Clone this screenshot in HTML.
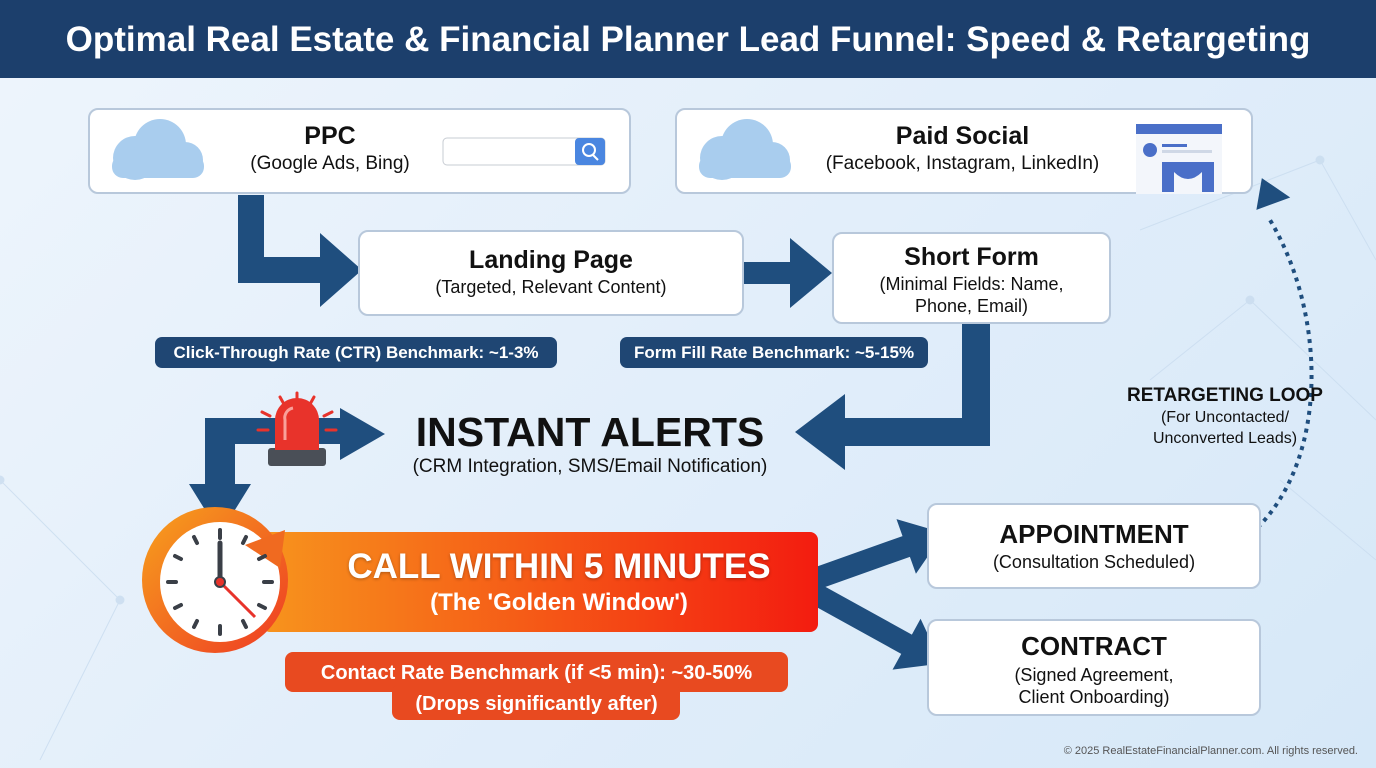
<!DOCTYPE html>
<html><head><meta charset="utf-8"><style>
*{margin:0;padding:0;box-sizing:border-box}
body{width:1376px;height:768px;overflow:hidden;font-family:"Liberation Sans",sans-serif;background:linear-gradient(135deg,#eef5fc 0%,#e2eefa 50%,#d6e8f8 100%);position:relative}
.hdr{position:absolute;left:0;top:0;width:1376px;height:78px;background:#1c3f6c;color:#fff;font-weight:bold;font-size:35px;text-align:center;line-height:80px}
.box{position:absolute;background:#fff;border:2px solid #b8c8db;border-radius:10px;text-align:center;color:#111}
.t{font-weight:bold}
.pill{position:absolute;background:#1f4673;color:#fff;font-weight:bold;font-size:17px;border-radius:7px;text-align:center;line-height:31px}
.abs{position:absolute;text-align:center;color:#111}
svg{position:absolute;left:0;top:0}
</style></head><body>
<svg width="1376" height="768">
<g stroke="#c9dcef" stroke-width="1" fill="#c9dcef" opacity="0.8">
<line x1="1140" y1="230" x2="1320" y2="160"/><line x1="1320" y1="160" x2="1376" y2="260"/><line x1="1150" y1="380" x2="1250" y2="300"/><line x1="1250" y1="300" x2="1376" y2="420"/><line x1="0" y1="480" x2="120" y2="600"/><line x1="120" y1="600" x2="40" y2="760"/><line x1="1280" y1="480" x2="1376" y2="560"/>
<circle cx="1320" cy="160" r="4"/><circle cx="1250" cy="300" r="4"/><circle cx="120" cy="600" r="4"/><circle cx="0" cy="480" r="4"/>
</g>
<g fill="#1f4e7e" stroke="none">
<path d="M238 195 h26 v62 h56 v-24 l42 37 l-42 37 v-24 h-82z"/>
<path d="M744 262 h46 v-24 l42 35 l-42 35 v-24 h-46z"/>
<path d="M962 323 h28 v123 h-145 v24 l-50 -38 l50 -38 v24 h117z"/>
<path d="M340 408 l45 26 l-45 26 v-16 h-105 v40 h16 l-31 50 l-31 -50 h16 v-66 h135z"/>
<path transform="translate(812,580) rotate(-19.6)" d="M0 -11 h100 v-18 l40 29 l-40 29 v-18 h-100z"/>
<path transform="translate(812,592) rotate(28.9)" d="M0 -11 h108 v-18 l40 29 l-40 29 v-18 h-108z"/>
</g>
<path d="M1237 545 C1330 480 1330 320 1270 220" stroke="#1f4e7e" stroke-width="4" stroke-dasharray="4 5" fill="none"/>
<path d="M1252 205 l36 0 l-20 -28z" fill="#1f4e7e" transform="rotate(-20 1268 195)"/>
<g>
<rect x="268" y="448" width="58" height="18" rx="3" fill="#4a4f57"/>
<path d="M275 450 v-30 a22 22 0 0 1 44 0 v30z" fill="#e8332b"/>
<path d="M285 440 v-20 a10 10 0 0 1 8 -12" stroke="#f9a09a" stroke-width="3" fill="none"/>
<g stroke="#e8332b" stroke-width="3" stroke-linecap="round">
<line x1="297" y1="393" x2="297" y2="403"/><line x1="280" y1="397" x2="285" y2="406"/><line x1="314" y1="397" x2="309" y2="406"/><line x1="262" y1="412" x2="270" y2="416"/><line x1="332" y1="412" x2="324" y2="416"/><line x1="258" y1="430" x2="268" y2="430"/><line x1="326" y1="430" x2="336" y2="430"/>
</g></g>
<defs><linearGradient id="og" x1="0" x2="1"><stop offset="0" stop-color="#f7941d"/><stop offset="1" stop-color="#f31c10"/></linearGradient>
<linearGradient id="cg" x1="0" y1="0" x2="1" y2="1"><stop offset="0" stop-color="#f7a21d"/><stop offset="1" stop-color="#ee3a24"/></linearGradient></defs>
<rect x="262" y="532" width="556" height="100" rx="8" fill="url(#og)"/>
<circle cx="215" cy="580" r="73" fill="url(#cg)"/>
<circle cx="220" cy="582" r="60" fill="#fff"/>
<path d="M245 545 l40 -15 l-5 38z" fill="#f06a20"/>
<g stroke="#3a3f47" stroke-width="4" stroke-linecap="round">
<line x1="220" y1="530" x2="220" y2="538"/><line x1="220" y1="626" x2="220" y2="634"/><line x1="168" y1="582" x2="176" y2="582"/><line x1="264" y1="582" x2="272" y2="582"/>
<line x1="194" y1="537" x2="197" y2="543"/><line x1="246" y1="537" x2="243" y2="543"/><line x1="175" y1="556" x2="181" y2="559"/><line x1="265" y1="556" x2="259" y2="559"/><line x1="175" y1="608" x2="181" y2="605"/><line x1="265" y1="608" x2="259" y2="605"/><line x1="194" y1="627" x2="197" y2="621"/><line x1="246" y1="627" x2="243" y2="621"/>
<line x1="220" y1="582" x2="220" y2="543" stroke-width="5"/>
</g>
<line x1="220" y1="582" x2="255" y2="617" stroke="#e8332b" stroke-width="3"/>
<circle cx="220" cy="582" r="5" fill="#e8332b" stroke="#3a3f47" stroke-width="2"/>
<rect x="285" y="652" width="503" height="40" rx="8" fill="#e84a20"/>
<rect x="392" y="684" width="288" height="36" rx="8" fill="#e84a20"/>
</svg>
<div class="hdr">Optimal Real Estate &amp; Financial Planner Lead Funnel: Speed &amp; Retargeting</div>

<div class="box" style="left:88px;top:108px;width:543px;height:86px"></div>
<svg width="1376" height="768" style="pointer-events:none">
<g fill="#a9cdee"><circle cx="135" cy="158" r="22"/><circle cx="160" cy="145" r="26"/><circle cx="185" cy="160" r="18"/><rect x="112" y="155" width="92" height="23" rx="11"/></g>
<rect x="443" y="138" width="162" height="27" rx="4" fill="#fff" stroke="#c7ccd3"/>
<rect x="575" y="138" width="30" height="27" rx="4" fill="#4a86e0"/>
<circle cx="589" cy="150" r="6" stroke="#fff" stroke-width="2" fill="none"/><line x1="593" y1="155" x2="598" y2="160" stroke="#fff" stroke-width="2"/>
</svg>
<div class="abs" style="left:230px;top:122px;width:200px"><div class="t" style="font-size:25px">PPC</div><div style="font-size:19px;margin-top:2px">(Google Ads, Bing)</div></div>

<div class="box" style="left:675px;top:108px;width:578px;height:86px"></div>
<svg width="1376" height="768">
<g fill="#a9cdee"><circle cx="722" cy="158" r="22"/><circle cx="747" cy="145" r="26"/><circle cx="772" cy="160" r="18"/><rect x="699" y="155" width="92" height="23" rx="11"/></g>
<rect x="1136" y="124" width="86" height="70" fill="#f3f6fb"/>
<rect x="1136" y="124" width="86" height="10" fill="#4a6fc8"/>
<circle cx="1150" cy="150" r="7" fill="#4a6fc8"/>
<rect x="1162" y="144" width="25" height="3" fill="#4a6fc8"/><rect x="1162" y="150" width="50" height="3" fill="#cfd8e6"/>
<path d="M1162 162 h52 v30 h-12 v-20 q-14 14 -28 0 v20 h-12z" fill="#4a6fc8"/>
</svg>
<div class="abs" style="left:790px;top:122px;width:345px"><div class="t" style="font-size:25px">Paid Social</div><div style="font-size:19px;margin-top:2px">(Facebook, Instagram, LinkedIn)</div></div>

<div class="box" style="left:358px;top:230px;width:386px;height:86px;padding-top:14px"><div class="t" style="font-size:25px">Landing Page</div><div style="font-size:18px;margin-top:2px">(Targeted, Relevant Content)</div></div>
<div class="box" style="left:832px;top:232px;width:279px;height:92px;padding-top:9px"><div class="t" style="font-size:25px">Short Form</div><div style="font-size:18px;margin-top:1px;line-height:22px">(Minimal Fields: Name,<br>Phone, Email)</div></div>

<div class="pill" style="left:155px;top:337px;width:402px">Click-Through Rate (CTR) Benchmark: ~1-3%</div>
<div class="pill" style="left:620px;top:337px;width:308px">Form Fill Rate Benchmark: ~5-15%</div>

<div class="abs" style="left:380px;top:408px;width:420px"><div class="t" style="font-size:41px;line-height:48px">INSTANT ALERTS</div><div style="font-size:19px">(CRM Integration, SMS/Email Notification)</div></div>

<div class="abs" style="left:300px;top:546px;width:518px;color:#fff"><div class="t" style="font-size:35px;line-height:42px;text-shadow:0 1px 3px rgba(0,0,0,.3)">CALL WITHIN 5 MINUTES</div><div class="t" style="font-size:24px;line-height:30px">(The 'Golden Window')</div></div>
<div class="abs" style="left:285px;top:658px;width:503px;color:#fff;font-weight:bold;font-size:20px;line-height:31px">Contact Rate Benchmark (if &lt;5 min): ~30-50%<br>(Drops significantly after)</div>

<div class="box" style="left:927px;top:503px;width:334px;height:86px;padding-top:14px"><div class="t" style="font-size:26px">APPOINTMENT</div><div style="font-size:18px;margin-top:2px">(Consultation Scheduled)</div></div>
<div class="box" style="left:927px;top:619px;width:334px;height:97px;padding-top:10px"><div class="t" style="font-size:26px">CONTRACT</div><div style="font-size:18px;margin-top:2px;line-height:22px">(Signed Agreement,<br>Client Onboarding)</div></div>

<div class="abs" style="left:1105px;top:385px;width:240px"><div class="t" style="font-size:19px">RETARGETING LOOP</div><div style="font-size:16px;line-height:21px">(For Uncontacted/<br>Unconverted Leads)</div></div>

<div class="abs" style="right:18px;top:745px;font-size:11px;color:#555;text-align:right">© 2025 RealEstateFinancialPlanner.com. All rights reserved.</div>
</body></html>
